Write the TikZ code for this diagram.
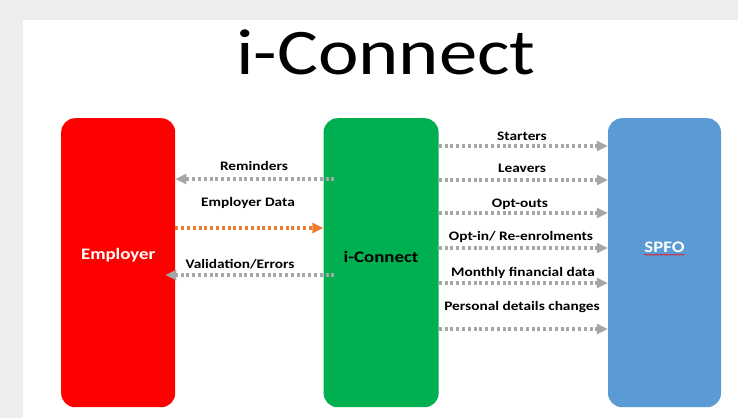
\documentclass[tikz,border=0pt]{standalone}
\usepackage{fontspec}
\setmainfont[FakeStretch=1.18]{Carlito}
\usetikzlibrary{positioning, arrows.meta, decorations.pathmorphing}

\definecolor{empred}{HTML}{FF0000}
\definecolor{icgreen}{HTML}{00B050}
\definecolor{spfoblue}{HTML}{5B9BD5}
\definecolor{flowgray}{HTML}{A6A6A6}
\definecolor{floworange}{HTML}{ED7D31}
\definecolor{pagegray}{HTML}{EDEDED}

\begin{document}
\begin{tikzpicture}[x=1pt, y=1pt, every node/.style={inner sep=0pt, text opacity=1},
    box/.style={rectangle, rounded corners=14pt, minimum width=114pt, minimum height=289pt},
    boxtext/.style={anchor=base, font=\fontsize{16}{18}\selectfont\bfseries},
    flow/.style={anchor=base, font=\fontsize{13}{14}\selectfont\bfseries},
    grayflow/.style={draw=flowgray, line width=3.2pt, dash pattern=on 3pt off 2.8pt, -{Triangle[length=11pt, width=10pt, fill=flowgray]}},
    orangeflow/.style={grayflow, draw=floworange, -{Triangle[length=11pt, width=10pt, fill=floworange]}}]
    \useasboundingbox (0,0) rectangle (738,-418);
    \fill[pagegray] (0,0) rectangle (738,-418);
    \fill[white] (23,-20) rectangle (738,-418);

    \node (title) [anchor=base, font=\fontsize{65}{70}\selectfont] at (386,-74) {i-Connect};

    \node (employer) [box, fill=empred, anchor=north west] at (61,-118) {};
    \node (iconnect) [box, fill=icgreen, right=148pt of employer, minimum width=115pt] {};
    \node (spfo) [box, fill=spfoblue, right=169pt of iconnect, minimum width=113pt] {};

    \node (employertxt) [boxtext, white] at ([yshift=3.5pt]employer.center) {Employer};
    \node (iconnecttxt) [boxtext] at (iconnect.center) {i-Connect};
    \node (spfotxt) [boxtext, white] at ([yshift=10.5pt]spfo.center) {SPFO};
    \draw[red, line width=.5pt, decorate, decoration={snake, amplitude=.6pt, segment length=3pt}]
        ([yshift=-2.5pt]spfotxt.base west) -- ([yshift=-2.5pt]spfotxt.base east);

    % employer side
    \node (reminders) [flow] at (254,-170) {Reminders};
    \node (empdata) [flow] at (248,-206) {Employer Data};
    \node (validation) [flow] at (240,-268) {Validation/Errors};

    \path[grayflow] ([xshift=11pt, yshift=-9pt]reminders.base -| iconnect.west) -- ([yshift=-9pt]reminders.base -| employer.east);
    \path[orangeflow] ([yshift=-22pt]empdata.base -| employer.east) -- ([yshift=-22pt]empdata.base -| iconnect.west);
    \path[grayflow] ([xshift=11pt, yshift=-7pt]validation.base -| iconnect.west) -- ([xshift=-10pt, yshift=-7pt]validation.base -| employer.east);

    % spfo side
    \node (starters) [flow] at (522,-140) {Starters};
    \node (leavers) [flow] at (522,-172) {Leavers};
    \node (optouts) [flow] at (520,-207) {Opt-outs};
    \node (optins) [flow] at (521,-240) {Opt-in/ Re-enrolments};
    \node (monthly) [flow] at (523,-276) {Monthly financial data};
    \node (personal) [flow] at (522,-310) {Personal details changes};

    \path[grayflow] ([yshift=-6pt]starters.base -| iconnect.east) -- ([yshift=-6pt]starters.base -| spfo.west);
    \path[grayflow] ([yshift=-8pt]leavers.base -| iconnect.east) -- ([yshift=-8pt]leavers.base -| spfo.west);
    \path[grayflow] ([yshift=-6pt]optouts.base -| iconnect.east) -- ([yshift=-6pt]optouts.base -| spfo.west);
    \path[grayflow] ([yshift=-8pt]optins.base -| iconnect.east) -- ([yshift=-8pt]optins.base -| spfo.west);
    \path[grayflow] ([yshift=-7pt]monthly.base -| iconnect.east) -- ([yshift=-7pt]monthly.base -| spfo.west);
    \path[grayflow] ([yshift=-19pt]personal.base -| iconnect.east) -- ([yshift=-19pt]personal.base -| spfo.west);
\end{tikzpicture}
\end{document}
